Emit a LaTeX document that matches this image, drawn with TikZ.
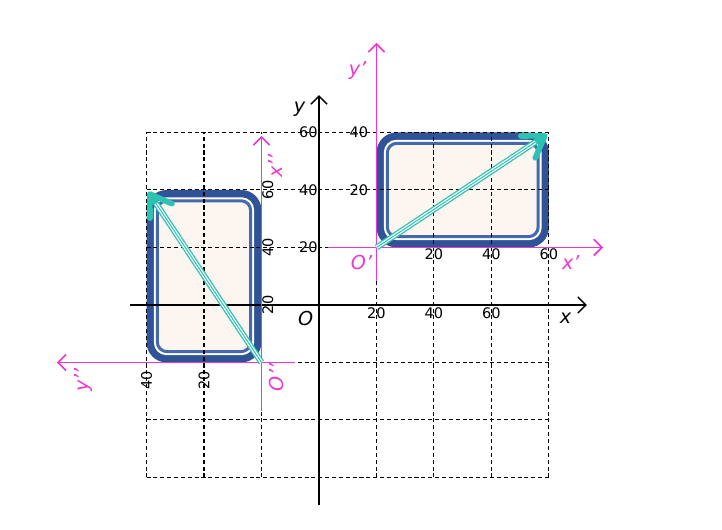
\documentclass[tikz,border=0pt]{standalone}
\usepackage{fontspec}
\setmainfont{DejaVu Sans}
\usetikzlibrary{arrows.meta,calc,positioning}
\definecolor{panelblue}{RGB}{47,83,150}
\definecolor{panelline}{RGB}{70,104,172}
\definecolor{panelfill}{RGB}{253,245,240}
\definecolor{framemag}{RGB}{240,52,206}
\definecolor{vecteal}{RGB}{46,194,178}
\tikzset{
	gridline/.style={black, line width=0.5pt, dash pattern=on 2pt off 1.4pt},
	axis/.style={black, line width=0.7pt, -{Straight Barb[length=4pt,width=8pt]}},
	frameaxis/.style={framemag, line width=0.8pt, -{Straight Barb[length=4pt,width=8pt]}},
	ticklabel/.style={font=\fontsize{7.2}{8}\selectfont, inner sep=0.5pt},
	axislabel/.style={font=\fontsize{9.5}{11}\selectfont\itshape},
	framelabel/.style={axislabel, text=framemag},
	panel/.style={rectangle, fill=panelblue, rounded corners=10pt, inner sep=0pt},
	panelgap/.style={rectangle, fill=white, rounded corners=6.3pt, inner sep=0pt},
	panelin/.style={rectangle, fill=panelfill, draw=panelline, line width=1.5pt, rounded corners=4.8pt, inner sep=0pt},
	vecband/.style={vecteal, line width=3pt, -{Straight Barb[length=10pt,width=13pt,line width=2.8pt,round]},
		postaction={draw=white, line width=1.7pt, -, shorten >=7pt},
		postaction={draw=vecteal, line width=0.5pt, -, shorten >=7pt}},
}
\begin{document}
\begin{tikzpicture}
\useasboundingbox (-5.548,-3.913) rectangle (7.009,5.304);
% panels
\node (rectA) at (2.5,2) [panel, minimum width=3cm, minimum height=2cm] {};
\node (rectAgap) at (rectA.center) [panelgap, minimum width=2.746cm, minimum height=1.746cm] {};
\node (rectAin) at (rectA.center) [panelin, minimum width=2.624cm, minimum height=1.624cm] {};
\node (rectB) at (-2,0.5) [panel, minimum width=2cm, minimum height=3cm] {};
\node (rectBgap) at (rectB.center) [panelgap, minimum width=1.746cm, minimum height=2.746cm] {};
\node (rectBin) at (rectB.center) [panelin, minimum width=1.624cm, minimum height=2.624cm] {};
% grid
\coordinate (gridSW) at (-3,-3);
\coordinate (gridNE) at (4,3);
\draw[gridline] (gridSW) grid (gridNE);
% main axes
\coordinate (xstart) at (-3.29,0);
\coordinate (xend) at (4.66,0);
\coordinate (ystart) at (0,-3.48);
\coordinate (yend) at (0,3.65);
\draw[axis] (xstart) -- (xend);
\draw[axis] (ystart) -- (yend);
\node (labx) at (4.29,-0.23) [axislabel] {x};
\node (laby) at (-0.34,3.40) [axislabel] {y};
\node (labO) at (-0.23,-0.24) [axislabel] {O};
\node (x20) at (1,-0.14) [ticklabel] {20};
\node (x40) at (2,-0.14) [ticklabel] {40};
\node (x60) at (3,-0.14) [ticklabel] {60};
\node (y20) at (0,1) [ticklabel, anchor=east] {20};
\node (y40) at (0,2) [ticklabel, anchor=east] {40};
\node (y60) at (0,3) [ticklabel, anchor=east] {60};
% frame O'
\begin{scope}[shift={(1,1)}]
	\coordinate (oA) at (0,0);
	\coordinate (xAstart) at (-0.84,0);
	\coordinate (xAend) at (3.94,0);
	\coordinate (yAstart) at (0,-0.58);
	\coordinate (yAend) at (0,3.56);
	\coordinate (tipA) at (2.97,1.97);
	\draw[frameaxis] (xAstart) -- (xAend);
	\draw[frameaxis] (yAstart) -- (yAend);
	\node (labOA) at (-0.26,-0.26) [framelabel] {O’};
	\node (labxA) at (3.38,-0.27) [framelabel] {x’};
	\node (labyA) at (-0.33,3.07) [framelabel] {y’};
	\node (xA20) at (1,-0.11) [ticklabel] {20};
	\node (xA40) at (2,-0.11) [ticklabel] {40};
	\node (xA60) at (3,-0.11) [ticklabel] {60};
	\node (yA20) at (-0.12,1) [ticklabel, anchor=east] {20};
	\node (yA40) at (-0.12,2) [ticklabel, anchor=east] {40};
	\draw[vecband] (oA) -- (tipA);
\end{scope}
% frame O''
\begin{scope}[shift={(-1,-1)}, rotate=90, transform shape]
	\coordinate (oB) at (0,0);
	\coordinate (xBstart) at (-0.84,0);
	\coordinate (xBend) at (3.94,0);
	\coordinate (yBstart) at (0,-0.58);
	\coordinate (yBend) at (0,3.56);
	\coordinate (tipB) at (2.97,1.97);
	\draw[frameaxis] (xBstart) -- (xBend);
	\draw[frameaxis] (yBstart) -- (yBend);
	\node (labOB) at (-0.26,-0.26) [framelabel] {O’’};
	\node (labxB) at (3.42,-0.25) [framelabel] {x’’};
	\node (labyB) at (-0.3,3.1) [framelabel] {y’’};
	\node (xB20) at (1,-0.11) [ticklabel] {20};
	\node (xB40) at (2,-0.11) [ticklabel] {40};
	\node (xB60) at (3,-0.11) [ticklabel] {60};
	\node (yB20) at (-0.12,1) [ticklabel, anchor=east] {20};
	\node (yB40) at (-0.12,2) [ticklabel, anchor=east] {40};
	\draw[vecband] (oB) -- (tipB);
\end{scope}
\end{tikzpicture}
\end{document}
